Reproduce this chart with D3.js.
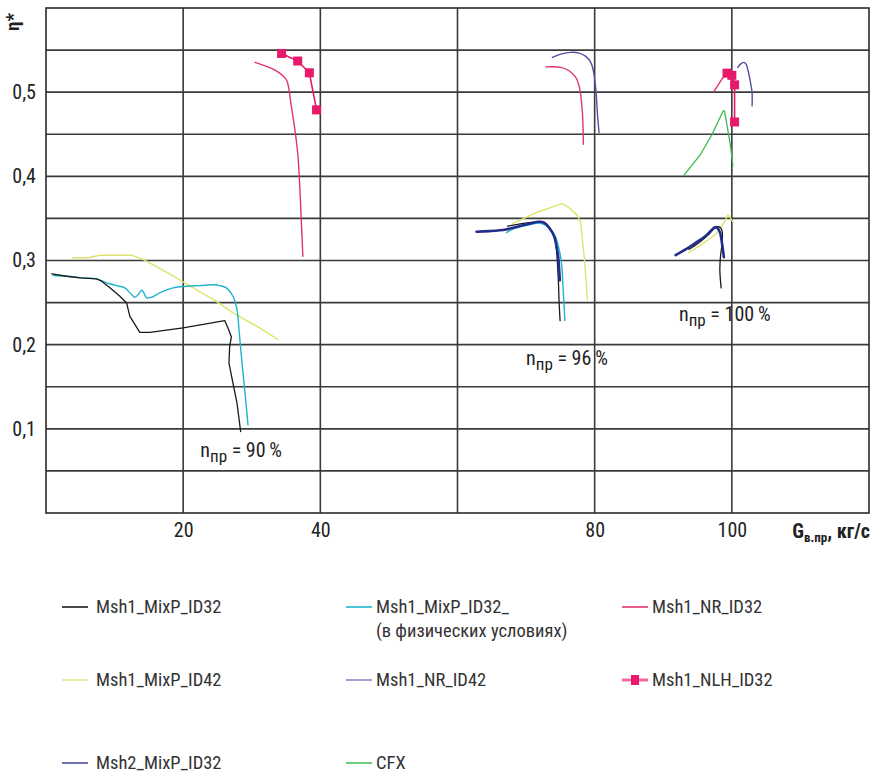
<!DOCTYPE html>
<html><head><meta charset="utf-8">
<script src="https://cdn.jsdelivr.net/npm/d3@7"></script>
<style>
body{margin:0;background:#fff;}
text{font-family:"Liberation Sans Narrow","Roboto Condensed","Arial Narrow","Liberation Sans",sans-serif;}
</style></head>
<body><svg id="c" width="871" height="775"></svg>
<script>
// ---- axes ----
const xTicks = [20, 40, 60, 80, 100];
const xTickLabels = ["20", "40", "", "80", "100"];
const yTicks = [0.1, 0.2, 0.3, 0.4, 0.5];
const yTickLabels = ["0,1", "0,2", "0,3", "0,4", "0,5"];
const yGrid = [0.05,0.1,0.15,0.2,0.25,0.3,0.35,0.4,0.45,0.5,0.55];

// ---- series (G, eta) ----
const mixP32_90 = [[0.83,0.2842],[3.01,0.2813],[4.95,0.2794],[7.38,0.2782],[8.11,0.2754],[9.32,0.2675],[10.77,0.2575],[11.75,0.2496],[12.23,0.2337],[13.68,0.2147],[15.14,0.2147],[19.99,0.2199],[26.06,0.2286],[26.54,0.2199],[27.03,0.2092],[26.78,0.198],[26.68,0.1782],[27.26,0.1544],[27.85,0.1306],[28.38,0.0968]];
const mixP32_96 = [[67.29,0.3408],[71.42,0.3456],[72.88,0.3440],[73.75,0.3349],[74.24,0.325],[74.43,0.3131],[74.57,0.2972],[74.72,0.2734],[74.82,0.2496],[74.96,0.2286]];
const mixP32_100 = [[93.74,0.3131],[95.20,0.3210],[96.65,0.3310],[97.38,0.3377],[97.86,0.3401],[98.35,0.3389],[98.59,0.3349],[98.59,0.3210],[98.35,0.3051],[98.25,0.2893],[98.44,0.2675]];

const mixP32phys_90 = [[1.06,0.2821],[3.01,0.2813],[5.43,0.2794],[7.38,0.2782],[8.84,0.2735],[10.29,0.2702],[11.50,0.2675],[12.48,0.2595],[12.97,0.2563],[13.45,0.2595],[13.94,0.2646],[14.27,0.2615],[14.66,0.2556],[15.38,0.2563],[16.59,0.2615],[18.53,0.2675],[20.48,0.2694],[22.42,0.2702],[24.36,0.2711],[25.33,0.2702],[26.30,0.2675],[27.26,0.2575],[27.85,0.2417],[28.14,0.2179],[28.49,0.1861],[28.87,0.1544],[29.21,0.1265],[29.45,0.1048]];
const mixP32phys_96 = [[67.15,0.3330],[68.02,0.3371],[70.45,0.3423],[72.15,0.3443],[73.36,0.3389],[74.24,0.3289],[74.82,0.3131],[75.21,0.2932],[75.40,0.2655],[75.55,0.2456],[75.65,0.2286]];

const nr32_90 = [[30.47,0.5354],[33.33,0.5265],[34.45,0.520],[35.12,0.5135],[35.76,0.4837],[36.35,0.452],[36.72,0.426],[36.97,0.393],[37.2,0.353],[37.45,0.305]];
const nr32_96 = [[72.88,0.530],[75.06,0.5294],[76.27,0.5254],[77.25,0.5175],[77.73,0.5075],[77.98,0.4956],[78.21,0.4758],[78.31,0.456],[78.35,0.438]];
const nr32_100 = [[97.4,0.501],[98.6,0.516],[99.3,0.523]];

const mixP42_90 = [[3.89,0.3032],[6.16,0.3032],[7.86,0.3063],[12.47,0.3063],[14.16,0.3012],[17.57,0.2861],[20.48,0.2723],[24.85,0.2515],[27.26,0.2377],[31.15,0.2199],[33.81,0.2060]];
const mixP42_96 = [[68.02,0.3437],[71.42,0.3567],[75.21,0.3675],[76.27,0.3627],[77.48,0.3536],[77.98,0.3448],[78.21,0.325],[78.46,0.3051],[78.70,0.2813],[78.94,0.2536]];
const mixP42_100 = [[93.74,0.3092],[95.20,0.3170],[96.65,0.325],[97.86,0.333],[98.84,0.3449],[99.42,0.3540],[99.71,0.3520],[100.15,0.3456]];

const nr42_96 = [[73.84,0.5413],[75.06,0.5452],[76.52,0.5473],[77.73,0.5464],[78.70,0.5425],[79.43,0.5354],[79.81,0.5254],[80.06,0.5115],[80.25,0.4956],[80.39,0.4758],[80.64,0.452]];
const nr42_100 = [[100.87,0.5294],[101.26,0.5333],[101.75,0.5354],[102.08,0.5333],[102.37,0.5254],[102.72,0.5115],[102.95,0.4996],[102.95,0.4837]];

const nlh32_90 = [[34.35,0.546],[36.7,0.537],[38.4,0.523],[39.45,0.479]];
const nlh32_100 = [[99.3,0.5226],[100.0,0.520],[100.4,0.5087],[100.4,0.4646]];

const msh2_96 = [[62.78,0.3342],[64.63,0.3349],[67.06,0.3369],[69.00,0.3408],[70.45,0.3437],[71.91,0.3461],[72.63,0.3449],[73.36,0.3389],[74.09,0.3289],[74.43,0.317],[74.67,0.3051],[74.82,0.2893],[74.92,0.2766]];
const msh2_100 = [[91.80,0.3063],[93.26,0.3131],[94.71,0.3210],[96.17,0.3290],[97.13,0.3369],[97.53,0.3396],[98.01,0.3377],[98.35,0.3310],[98.59,0.3190],[98.84,0.3039]];

const cfx_100 = [[93.01,0.4012],[95.44,0.4262],[97.13,0.45],[98.73,0.4777],[98.93,0.4777],[99.31,0.4599],[99.81,0.4361],[100.15,0.4123]];

const annotations = [
  {g:22.5, e:0.066, pct:"90"},
  {g:70.0, e:0.176, pct:"96"},
  {g:92.3, e:0.228, pct:"100"}
];

const legendNames = ["Msh1_MixP_ID32","Msh1_MixP_ID32_","Msh1_NR_ID32","Msh1_MixP_ID42","Msh1_NR_ID42","Msh1_NLH_ID32","Msh2_MixP_ID32","CFX"];

// ---- drawing ----
const FONT = '"Liberation Sans Narrow","Roboto Condensed","Arial Narrow",sans-serif';
const svg = d3.select("#c");
const L=46, R=869, T=8, B=513;
const x = d3.scaleLinear().domain([0,120]).range([L,R]);
const y = d3.scaleLinear().domain([0,0.6]).range([B,T]);

const grid = svg.append("g");
grid.selectAll("line.h").data(yGrid).join("line")
  .attr("x1",L).attr("x2",R).attr("y1",d=>y(d)).attr("y2",d=>y(d))
  .attr("stroke","#3a3a3a").attr("stroke-width",1.6);
grid.selectAll("line.v").data(xTicks).join("line")
  .attr("y1",T).attr("y2",B).attr("x1",d=>x(d)).attr("x2",d=>x(d))
  .attr("stroke","#3a3a3a").attr("stroke-width",1.6);
svg.append("rect").attr("x",L).attr("y",T).attr("width",R-L).attr("height",B-T)
  .attr("fill","none").attr("stroke","#2a2a2a").attr("stroke-width",1.6);

const xAxis = svg.append("g").attr("transform",`translate(0,${B})`)
  .call(d3.axisBottom(x).tickValues(xTicks).tickFormat((d,i)=>xTickLabels[i]).tickSize(0).tickPadding(10));
xAxis.select(".domain").remove();
xAxis.selectAll("text").attr("font-size",20).attr("fill","#222").style("font-family",FONT);
const yAxis = svg.append("g").attr("transform",`translate(${L},0)`)
  .call(d3.axisLeft(y).tickValues(yTicks).tickFormat((d,i)=>yTickLabels[i]).tickSize(0).tickPadding(10));
yAxis.select(".domain").remove();
yAxis.selectAll("text").attr("font-size",20).attr("fill","#222").style("font-family",FONT);

// axis titles
const yt = svg.append("text").attr("transform","translate(19,22) rotate(-90)")
  .attr("text-anchor","middle").attr("font-size",19).attr("font-weight","bold").attr("fill","#222");
yt.append("tspan").text("η*");
const xt = svg.append("text").attr("x",870).attr("y",538).attr("text-anchor","end")
  .attr("font-size",20).attr("font-weight","bold").attr("fill","#222");
xt.append("tspan").text("G");
xt.append("tspan").attr("font-size",13).attr("dy",4).text("в.пр");
xt.append("tspan").attr("dy",-4).text(", кг/с");

const lineSmooth = d3.line().x(d=>x(d[0])).y(d=>y(d[1])).curve(d3.curveCatmullRom.alpha(0.5));
const lineLin = d3.line().x(d=>x(d[0])).y(d=>y(d[1]));

const C = {
  black:"#1a1a1a", cyan:"#1fb3cc", nr32:"#e2336c", y42:"#dde46e",
  nr42:"#5a4ea0", nlh:"#e8186a", msh2:"#232c8c", cfx:"#3dba4a"
};
const series = [
  {d:mixP42_90,c:C.y42,w:1.4,lin:true},{d:mixP42_96,c:C.y42,w:1.4,lin:true},{d:mixP42_100,c:C.y42,w:1.4,lin:true},
  {d:mixP32phys_90,c:C.cyan,w:1.4},{d:mixP32phys_96,c:C.cyan,w:1.4},
  {d:mixP32_90,c:C.black,w:1.3,lin:true},{d:mixP32_96,c:C.black,w:1.3},{d:mixP32_100,c:C.black,w:1.3},
  {d:msh2_96,c:C.msh2,w:2.6},{d:msh2_100,c:C.msh2,w:2.6},
  {d:nr42_96,c:C.nr42,w:1.4},{d:nr42_100,c:C.nr42,w:1.4},
  {d:nr32_90,c:C.nr32,w:1.4},{d:nr32_96,c:C.nr32,w:1.4},{d:nr32_100,c:C.nr32,w:1.4,lin:true},
  {d:cfx_100,c:C.cfx,w:1.3,lin:true},
  {d:nlh32_90,c:C.nlh,w:1.6,lin:true},{d:nlh32_100,c:C.nlh,w:1.6,lin:true}
];
series.forEach(s=>{
  svg.append("path").attr("d",(s.lin?lineLin:lineSmooth)(s.d))
    .attr("fill","none").attr("stroke",s.c).attr("stroke-width",s.w)
    .attr("stroke-linejoin","round").attr("stroke-linecap","round");
});
[nlh32_90,nlh32_100].forEach(arr=>{
  svg.append("g").selectAll("rect").data(arr).join("rect")
    .attr("x",d=>x(d[0])-4.5).attr("y",d=>y(d[1])-4.5).attr("width",9).attr("height",9)
    .attr("fill",C.nlh);
});

// annotations
annotations.forEach(a=>{
  const t = svg.append("text").attr("x",x(a.g)).attr("y",y(a.e)).attr("font-size",20).attr("fill","#222");
  t.append("tspan").text("n");
  t.append("tspan").attr("font-size",17).attr("dy",5).text("пр");
  t.append("tspan").attr("dy",-5).text(" = " + a.pct + "\u2009%");
});

// legend
const legCols = [62, 346, 622];
const legRows = [607, 680, 763];
const legColors = [C.black, C.cyan, C.nr32, "#e3ea90", "#9184c4", C.nlh, "#4a4fa0", "#4cc05a"];
legendNames.forEach((n,i)=>{
  const cx = legCols[i%3], cy = legRows[Math.floor(i/3)];
  const g = svg.append("g");
  g.append("line").attr("x1",cx).attr("x2",cx+26).attr("y1",cy).attr("y2",cy)
    .attr("stroke", i===5 ? "#f06a98" : legColors[i]).attr("stroke-width", i===5?3:1.6);
  if(i===5){ g.append("rect").attr("x",cx+9).attr("y",cy-5).attr("width",8).attr("height",10).attr("fill",C.nlh); }
  const tx = i%3===0 ? cx+34 : cx+30;
  g.append("text").attr("x",tx).attr("y",cy+6).attr("font-size",18.5).attr("fill","#333").text(n);
  if(i===1){
    g.append("text").attr("x",tx).attr("y",cy+30).attr("font-size",18.5).attr("fill","#333").text("(в физических условиях)");
  }
});
</script></body></html>
